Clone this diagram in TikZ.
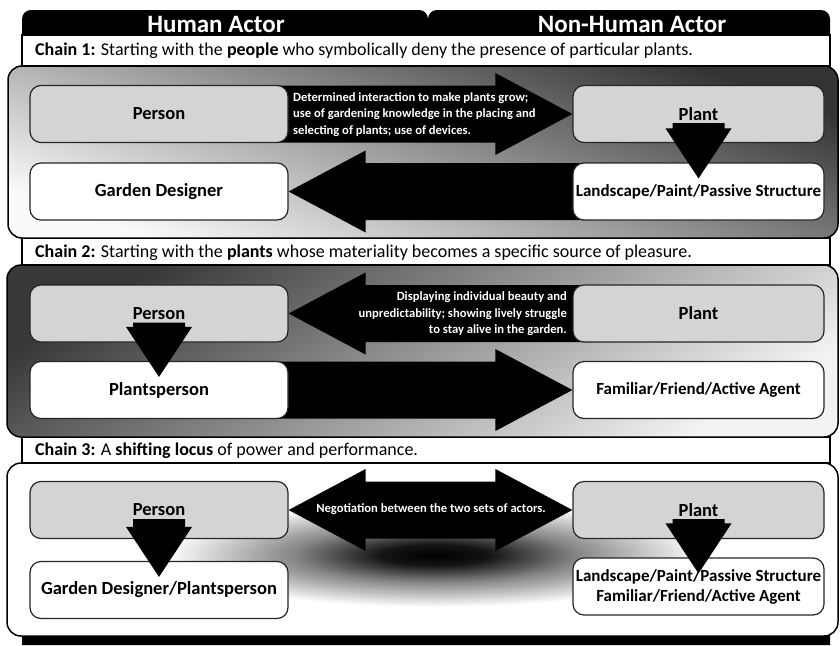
\documentclass[tikz,border=0pt]{standalone}
\usepackage{fontspec}
\setmainfont{Carlito}
\usetikzlibrary{calc}
\definecolor{boxgray}{RGB}{212,212,212}
\pgfdeclareradialshading{blob}{\pgfpoint{0bp}{0bp}}{color(0bp)=(black); color(5bp)=(black!92); color(13bp)=(black!48); color(25bp)=(white); color(50bp)=(white)}
\pgfdeclarelayer{bg}
\pgfdeclarelayer{mid}
\pgfdeclarelayer{fg}
\pgfsetlayers{bg,mid,main,fg}
\newcommand\rightblock[2]{%
  \fill ($(#1.east)+(-20,-28.5)$) -- ($(#2)+(-77,-28.5)$) -- ($(#2)+(-77,-41)$) -- (#2) -- ($(#2)+(-77,41)$) -- ($(#2)+(-77,28.5)$) -- ($(#1.east)+(-20,28.5)$) -- cycle;}
\newcommand\leftblock[2]{%
  \fill ($(#1.west)+(20,-28.5)$) -- ($(#2)+(77,-28.5)$) -- ($(#2)+(77,-41)$) -- (#2) -- ($(#2)+(77,41)$) -- ($(#2)+(77,28.5)$) -- ($(#1.west)+(20,28.5)$) -- cycle;}
\newcommand\downblock[2]{%
  \fill ($(#1.center)+(-26,9)$) -- ($(#1.center)+(26,9)$) -- ($(#2.north)+(26,-34)$) -- ($(#2.north)+(33,-34)$) -- ($(#2.north)+(0,16)$) -- ($(#2.north)+(-33,-34)$) -- ($(#2.north)+(-26,-34)$) -- cycle;}
\begin{document}
\begin{tikzpicture}[x=1pt,y=-1pt,
  box/.style={draw=black!85, line width=1.2pt, rounded corners=11pt, minimum width=258pt, minimum height=57pt, inner sep=0pt, font=\bfseries\fontsize{18.5}{20}\selectfont, align=center},
  gbox/.style={box, fill=boxgray},
  wbox/.style={box, fill=white},
  chain/.style={draw=black, line width=1.5pt, rounded corners=14pt},
  strip/.style={fill=white, draw=black, line width=1.5pt},
  striptext/.style={anchor=west, inner sep=0pt, font=\fontsize{18}{20}\selectfont},
  arrtext/.style={text=white, font=\bfseries\fontsize{12.6}{16.5}\selectfont, inner sep=0pt},
  headtext/.style={text=white, font=\bfseries\fontsize{25}{27}\selectfont, inner sep=0pt}
]
\useasboundingbox (0,0) rectangle (840,645);
\begin{pgfonlayer}{bg}
  % black frame with two header tabs
  \fill[black, rounded corners=9pt] (22,645) -- (22,10) -- (428,10) -- (428,645);
  \fill[black, rounded corners=9pt] (428,645) -- (428,10) -- (830,10) -- (830,645);
  % chain caption strips
  \draw[strip] (22,35) rectangle (830,66);
  \draw[strip] (22,238) rectangle (830,265);
  \draw[strip] (22,437) rectangle (830,463);
  % chain panels
  \shadedraw[chain, top color=black!80, bottom color=black!2, shading angle=-19] (8,66) rectangle (838,238);
  \shadedraw[chain, top color=black!78, bottom color=black!5, shading angle=30.6] (7,265) rectangle (838,437);
  \draw[chain, fill=white] (7,463) rectangle (838,636);
  \shade[shading=blob] (435,555) ellipse [x radius=270, y radius=52];
\end{pgfonlayer}

\node[headtext] (hh) at (216,24) {Human Actor};
\node[headtext] (hn) at (632,24) {Non-Human Actor};

\node[striptext] (c1) at (35,51) {\textbf{Chain 1:} Starting with the \textbf{people} who symbolically deny the presence of particular plants.};
\node[striptext] (c2) at (35,252.5) {\textbf{Chain 2:} Starting with the \textbf{plants} whose materiality becomes a specific source of pleasure.};
\node[striptext] (c3) at (35,451) {\textbf{Chain 3:} A \textbf{shifting locus} of power and performance.};

% chain 1
\node[gbox] (p1) at (159,114) {Person};
\node[wbox] (g1) at (159,191.5) {Garden Designer};
\node[gbox, minimum width=251pt] (pl1) at (698.5,114) {Plant};
\node[wbox, minimum width=251pt] (l1) at (698.5,191.5) {\fontsize{17}{19}\selectfont Landscape/Paint/Passive Structure};
% chain 2
\node[gbox] (p2) at (159,313.5) {Person};
\node[wbox] (g2) at (159,390) {Plantsperson};
\node[gbox, minimum width=251pt] (pl2) at (698.5,313.5) {Plant};
\node[wbox, minimum width=251pt] (f2) at (698.5,390) {\fontsize{17}{19}\selectfont Familiar/Friend/Active Agent};
% chain 3
\node[gbox] (p3) at (159,510) {Person};
\node[wbox] (g3) at (159,590) {Garden Designer/Plantsperson};
\node[gbox, minimum width=251pt] (pl3) at (698.5,510) {Plant};
\node[wbox, minimum width=251pt] (l3) at (698.5,586.5) {\fontsize{17}{18.5}\selectfont Landscape/Paint/Passive Structure\\\fontsize{17}{18.5}\selectfont Familiar/Friend/Active Agent};

\begin{pgfonlayer}{mid}
  \rightblock{p1}{pl1.west}
  \leftblock{l1}{g1.east}
  \leftblock{pl2}{p2.east}
  \rightblock{g2}{f2.west}
  \fill (p3.east) -- ($(p3.east)+(77,-41)$) -- ($(p3.east)+(77,-28.5)$) -- ($(pl3.west)+(-77,-28.5)$) -- ($(pl3.west)+(-77,-41)$) -- (pl3.west) -- ($(pl3.west)+(-77,41)$) -- ($(pl3.west)+(-77,28.5)$) -- ($(p3.east)+(77,28.5)$) -- ($(p3.east)+(77,41)$) -- cycle;
\end{pgfonlayer}

\node[arrtext, align=left, anchor=west] (t1) at (293,114.5) {Determined interaction to make plants grow;\\use of gardening knowledge in the placing and\\selecting of plants; use of devices.};
\node[arrtext, align=right, anchor=east] (t2) at (567,314) {Displaying individual beauty and\\unpredictability; showing lively struggle\\to stay alive in the garden.};
\node[arrtext] (t3) at (431,509) {Negotiation between the two sets of actors.};

\begin{pgfonlayer}{fg}
  \downblock{pl1}{l1}
  \downblock{p2}{g2}
  \downblock{p3}{g3}
  \downblock{pl3}{l3}
\end{pgfonlayer}
\end{tikzpicture}
\end{document}
